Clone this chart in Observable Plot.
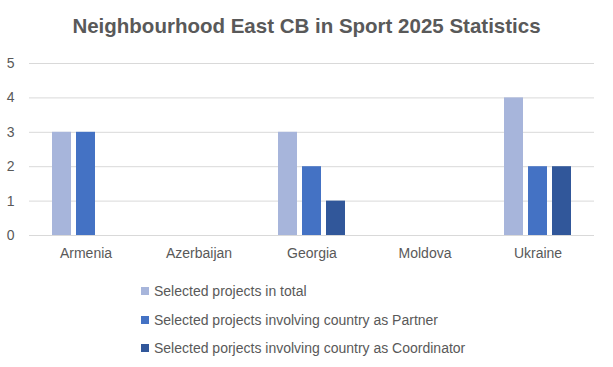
<!DOCTYPE html>
<html>
<head>
<meta charset="utf-8">
<script src="https://cdn.jsdelivr.net/npm/d3@7"></script>
<script src="https://cdn.jsdelivr.net/npm/@observablehq/plot@0.6"></script>
<style>
  html, body { margin: 0; padding: 0; background: #fff; }
  body { width: 613px; height: 367px; overflow: hidden; font-family: "Liberation Sans", Arial, sans-serif; color: #595959; }
  #title { height: 45px; line-height: 52px; text-align: center; font-size: 20.5px; font-weight: bold; color: #595959; }
  #legend { position: absolute; left: 141px; top: 277px; font-size: 14px; }
  .item { height: 28.5px; display: flex; align-items: center; line-height: 18px; }
  .sw { width: 8px; height: 8px; margin-right: 5px; display: inline-block; }
</style>
</head>
<body>
<div id="title">Neighbourhood East CB in Sport 2025 Statistics</div>
<div id="chart"></div>
<div id="legend"></div>
<script>
const countries = ["Armenia", "Azerbaijan", "Georgia", "Moldova", "Ukraine"];
const seriesNames = [
  "Selected projects in total",
  "Selected projects involving country as Partner",
  "Selected porjects involving country as Coordinator"
];
const totalValues = [3, 0, 3, 0, 4];
const partnerValues = [3, 0, 2, 0, 2];
const coordinatorValues = [0, 0, 1, 0, 2];
const yTicks = [0, 1, 2, 3, 4, 5];
const colors = ["#A7B5DB", "#4472C4", "#31579A"];

const seriesValues = [totalValues, partnerValues, coordinatorValues];
const data = [];
countries.forEach((c, i) => {
  seriesNames.forEach((s, j) => {
    data.push({country: c, series: s, value: seriesValues[j][i]});
  });
});

const chart = Plot.plot({
  width: 613,
  height: 220,
  marginTop: 18,
  marginBottom: 30,
  marginLeft: 27,
  marginRight: 17,
  style: {fontSize: "14px", fontFamily: "'Liberation Sans', Arial, sans-serif", color: "#595959", background: "#fff"},
  fx: {domain: countries, padding: 0, label: null, axis: "bottom", tickSize: 0, tickPadding: 13},
  x: {domain: seriesNames, axis: null, paddingInner: 0.2, paddingOuter: 0.876},
  y: {domain: [0, 5], ticks: yTicks, tickFormat: d3.format("d"), label: null, tickSize: 0, tickPadding: 15},
  color: {domain: seriesNames, range: colors},
  marks: [
    Plot.gridY(yTicks, {stroke: "#d9d9d9", strokeOpacity: 1, strokeWidth: 1}),
    Plot.barY(data, {fx: "country", x: "series", y: "value", fill: "series"})
  ]
});
document.getElementById("chart").appendChild(chart);

const legend = document.getElementById("legend");
seriesNames.forEach((s, j) => {
  const row = document.createElement("div");
  row.className = "item";
  const sw = document.createElement("span");
  sw.className = "sw";
  sw.style.background = colors[j];
  const t = document.createElement("span");
  t.textContent = s;
  row.appendChild(sw);
  row.appendChild(t);
  legend.appendChild(row);
});
</script>
</body>
</html>
